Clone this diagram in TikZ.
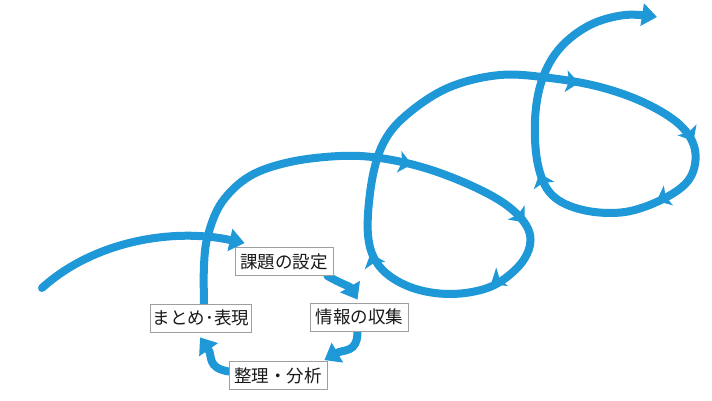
\documentclass[tikz,border=0pt]{standalone}
\usepackage{fontspec}
\newfontfamily\jpfont{Noto Sans CJK JP}
\usetikzlibrary{arrows.meta,backgrounds}
\definecolor{flowblue}{RGB}{30,152,214}
\begin{document}
\begin{tikzpicture}[x=1pt,y=1pt,
	stage/.style={draw=gray!75,line width=0.8pt,fill=white,minimum width=98pt,minimum height=28pt,inner sep=2pt,font=\jpfont\fontsize{17.5}{20}\selectfont,text=black!90},
	flow/.style={draw=flowblue,line width=8pt,line cap=round},
	bigtip/.style={-{Triangle[width=22pt,length=15pt]}},
	barb/.pic={\fill[flowblue] (7,0) -- (-6,11) -- (-3,0) -- (-6,-11) -- cycle;}]
	\useasboundingbox (0,0) rectangle (712,400);
	% the four stages
	\node[stage] (kadai) at (284,138.5) {課題の設定};
	\node[stage] (joho) at (359.5,83) {情報の収集};
	\node[stage] (seiri) at (278,24.5) {整理・分析};
	\node[stage] (matome) at (201,82) {まとめ･表現};
	\coordinate (start) at (42,112);
	\begin{scope}[on background layer]
	    \fill[white] (0,0) rectangle (712,400);
	    \draw[flow,bigtip] (start) .. controls (95,160) and (175,172) .. ([shift={(10,4)}]kadai.north west);
	    \draw[flow,bigtip] ([xshift=-6pt]kadai.south east) to[out=-30,in=120] ([shift={(-2,3)}]joho.north);
	    \draw[flow,bigtip] ([xshift=-2pt]joho.south) to[out=-90,in=30,looseness=1.3] ([shift={(-3,1)}]seiri.north east);
	    \draw[flow,bigtip] ([yshift=4pt]seiri.west) to[out=170,in=-55,looseness=1.3] ([shift={(-1,-5)}]matome.south);
	    % the spiral
	    \draw[flow,bigtip] plot[smooth,tension=0.6] coordinates {([xshift=3pt]matome.north) (204,135) (208,165) (222,198) (250,224) (290,238) (340,244) (380,242) (425,232) (470,215) (505,196) (526,175) (530,155) (518,133) (490,113) (450,106) (410,113) (380,133) (368,165) (372,220) (385,260) (410,288) (450,313) (500,325) (550,322) (600,313) (645,297) (680,275) (695,250) (690,222) (665,202) (625,188) (583,190) (552,205) (538,235) (535,280) (542,320) (560,352) (590,375) (625,385) (657,383)};
	    \pic[rotate=-12] at (405,237) {barb};
	    \pic[rotate=-50] at (520,183) {barb};
	    \pic[rotate=212] at (497,120) {barb};
	    \pic[rotate=110] at (373,140) {barb};
	    \pic[rotate=-8] at (572,318) {barb};
	    \pic[rotate=-60] at (690,265) {barb};
	    \pic[rotate=205] at (663,202) {barb};
	    \pic[rotate=110] at (542,220) {barb};
	\end{scope}
\end{tikzpicture}
\end{document}
